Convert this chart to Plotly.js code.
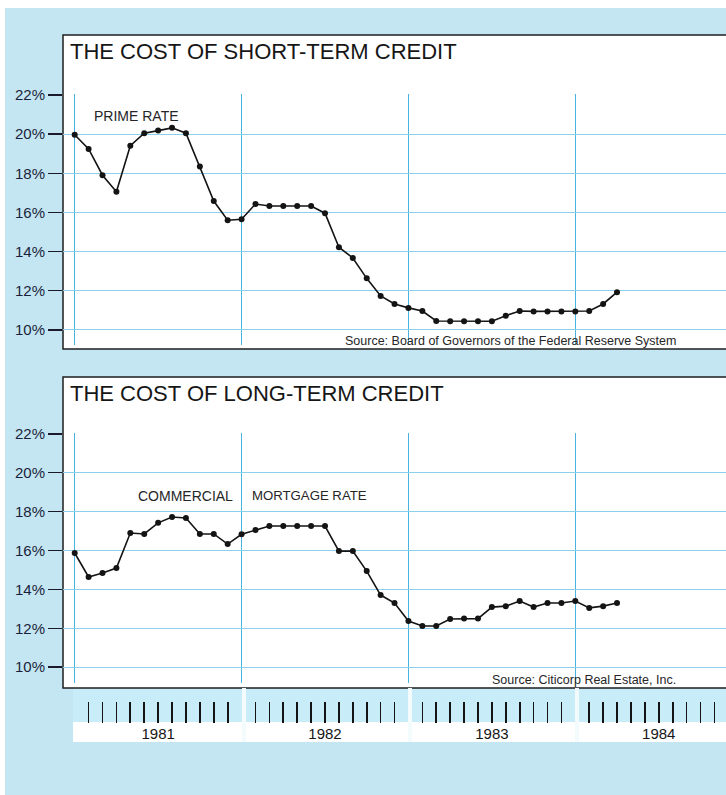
<!DOCTYPE html>
<html><head><meta charset="utf-8">
<script src="https://cdn.plot.ly/plotly-3.0.1.min.js"></script>
<style>html,body{margin:0;padding:0;background:#fff;}#chart{width:726px;height:795px;}</style>
</head><body><div id="chart"></div>
<script>
// ---- data ----
const months = [
 'Jan 1981','Feb 1981','Mar 1981','Apr 1981','May 1981','Jun 1981','Jul 1981','Aug 1981','Sep 1981','Oct 1981','Nov 1981','Dec 1981',
 'Jan 1982','Feb 1982','Mar 1982','Apr 1982','May 1982','Jun 1982','Jul 1982','Aug 1982','Sep 1982','Oct 1982','Nov 1982','Dec 1982',
 'Jan 1983','Feb 1983','Mar 1983','Apr 1983','May 1983','Jun 1983','Jul 1983','Aug 1983','Sep 1983','Oct 1983','Nov 1983','Dec 1983',
 'Jan 1984','Feb 1984','Mar 1984','Apr 1984'];
const primeRate = [
 19.97,19.24,17.9,17.05,19.41,20.05,20.18,20.32,20.05,18.34,16.58,15.6,
 15.65,16.43,16.33,16.33,16.33,16.33,15.96,14.22,13.67,12.63,11.73,11.32,
 11.12,10.96,10.45,10.44,10.44,10.44,10.44,10.72,10.96,10.94,10.94,10.94,
 10.94,10.96,11.32,11.92];
const mortgageRate = [
 15.87,14.64,14.84,15.1,16.9,16.85,17.42,17.72,17.67,16.85,16.85,16.33,
 16.83,17.05,17.26,17.26,17.26,17.26,17.26,15.97,15.97,14.94,13.71,13.3,
 12.37,12.12,12.12,12.48,12.5,12.5,13.09,13.14,13.4,13.09,13.3,13.3,
 13.4,13.05,13.14,13.3];
const yTickVals = [10,12,14,16,18,20,22];
const yTickText = ['10%','12%','14%','16%','18%','20%','22%'];
const years = ['1981','1982','1983','1984'];

// ---- geometry helpers ----
const W = 726, H = 795;
const px = v => v / W;
const py = v => 1 - v / H;
const FONT = 'Liberation Sans, Arial, Helvetica, sans-serif';
const monthIdx = months.map((m, i) => i);
const xRange = [-0.841, 46.836];
const xDomain = [px(63), 1];
const minorTicks = [];
for (let m = 1; m < 47; m++) if (m % 12 !== 0) minorTicks.push(m);

const lineStyle = {color: '#141414', width: 1.6};
const markerStyle = {color: '#141414', size: 6};

const traces = [
  {x: monthIdx, y: primeRate, text: months, xaxis: 'x', yaxis: 'y', mode: 'lines+markers',
   line: lineStyle, marker: markerStyle, hoverinfo: 'text+y', name: 'Prime rate'},
  {x: monthIdx, y: mortgageRate, text: months, xaxis: 'x2', yaxis: 'y2', mode: 'lines+markers',
   line: lineStyle, marker: markerStyle, hoverinfo: 'text+y', name: 'Commercial mortgage rate'},
  // empty carriers so the month-tick strip and the year-label axis get drawn
  {x: [0], y: [-5], xaxis: 'x3', yaxis: 'y3', mode: 'markers', marker: {opacity: 0}, hoverinfo: 'skip'},
  {x: [0], y: [-5], xaxis: 'x4', yaxis: 'y4', mode: 'markers', marker: {opacity: 0}, hoverinfo: 'skip'}
];

const xGrid = {
  domain: xDomain, range: xRange, tickvals: [0, 12, 24, 36], showticklabels: false,
  ticks: '', showgrid: true, gridcolor: '#46b3e3', gridwidth: 1, zeroline: false, showline: false, fixedrange: true
};
const yBase = {
  tickvals: yTickVals, ticktext: yTickText, ticks: 'outside', ticklen: 14, tickwidth: 1.5,
  tickcolor: '#1a1a2a', tickfont: {family: FONT, size: 15, color: '#1b1f3b'},
  showgrid: true, gridcolor: '#8ad0ed', gridwidth: 1, zeroline: false, showline: false, fixedrange: true
};

const rect = (x0, y0, x1, y1, fill, line) => ({
  type: 'rect', xref: 'paper', yref: 'paper', layer: 'below',
  x0: px(x0), x1: px(x1), y0: py(y1), y1: py(y0),
  fillcolor: fill, line: line || {width: 0}
});

const shapes = [
  rect(5, 8, 730, 800, '#c4e6f2'),
  rect(63, 35, 740, 349, '#ffffff', {color: '#1e1e1e', width: 1.5}),
  rect(63, 377, 740, 688, '#ffffff', {color: '#1e1e1e', width: 1.5}),
  rect(73, 689, 730, 722, '#c9edf8'),
  rect(242, 688, 246, 742, '#f4fbfd'),
  rect(408, 688, 412, 742, '#f4fbfd'),
  rect(575, 688, 579, 742, '#f4fbfd'),
  rect(73, 722, 242, 742, '#ffffff'),
  rect(246, 722, 408, 742, '#ffffff'),
  rect(412, 722, 575, 742, '#ffffff'),
  rect(579, 722, 730, 742, '#ffffff')
];

const ann = (text, x, y, size, xanchor, color) => ({
  text: text, xref: 'paper', yref: 'paper', x: px(x), y: py(y), xanchor: xanchor, yanchor: 'middle',
  showarrow: false, font: {family: FONT, size: size, color: color || '#161616'}
});

const annotations = [
  ann('THE COST OF SHORT-TERM CREDIT', 68, 52, 22, 'left'),
  ann('THE COST OF LONG-TERM CREDIT', 68, 393, 22, 'left'),
  ann('PRIME RATE', 92, 116, 14, 'left', '#262626'),
  ann('COMMERCIAL', 136, 496, 14, 'left', '#262626'),
  ann('MORTGAGE RATE', 250, 495, 13.2, 'left', '#262626'),
  ann('Source: Board of Governors of the Federal Reserve System', 678, 341, 12.5, 'right', '#262626'),
  ann('Source: Citicorp Real Estate, Inc.', 678, 680, 12.5, 'right', '#262626')
];

const layout = {
  width: W, height: H, margin: {l: 0, r: 0, t: 0, b: 0},
  paper_bgcolor: '#ffffff', plot_bgcolor: 'rgba(0,0,0,0)', showlegend: false,
  font: {family: FONT},
  xaxis: Object.assign({}, xGrid, {anchor: 'y'}),
  yaxis: Object.assign({}, yBase, {domain: [py(345), py(94.4)], range: [9.223, 22.03], anchor: 'x'}),
  xaxis2: Object.assign({}, xGrid, {anchor: 'y2'}),
  yaxis2: Object.assign({}, yBase, {domain: [py(683), py(433.2)], range: [9.188, 22.03], anchor: 'x2'}),
  xaxis3: {domain: xDomain, range: xRange, anchor: 'y3', tickvals: minorTicks, ticks: 'inside', ticklen: 21,
           tickwidth: 1.7, tickcolor: '#141414', showticklabels: false, showgrid: false, zeroline: false,
           showline: false, fixedrange: true},
  yaxis3: {domain: [py(723), py(700)], range: [0, 1], anchor: 'x3', visible: false, fixedrange: true},
  xaxis4: {domain: xDomain, range: xRange, anchor: 'y4', tickvals: years.map((y, i) => 12 * i + 6), ticktext: years,
           ticks: '', showgrid: false, zeroline: false, showline: false, fixedrange: true,
           tickfont: {family: FONT, size: 15, color: '#161616'}},
  yaxis4: {domain: [py(723), py(722)], range: [0, 1], anchor: 'x4', visible: false, fixedrange: true},
  shapes: shapes,
  annotations: annotations
};

Plotly.newPlot('chart', traces, layout, {staticPlot: true, displayModeBar: false});
</script>
</body></html>
